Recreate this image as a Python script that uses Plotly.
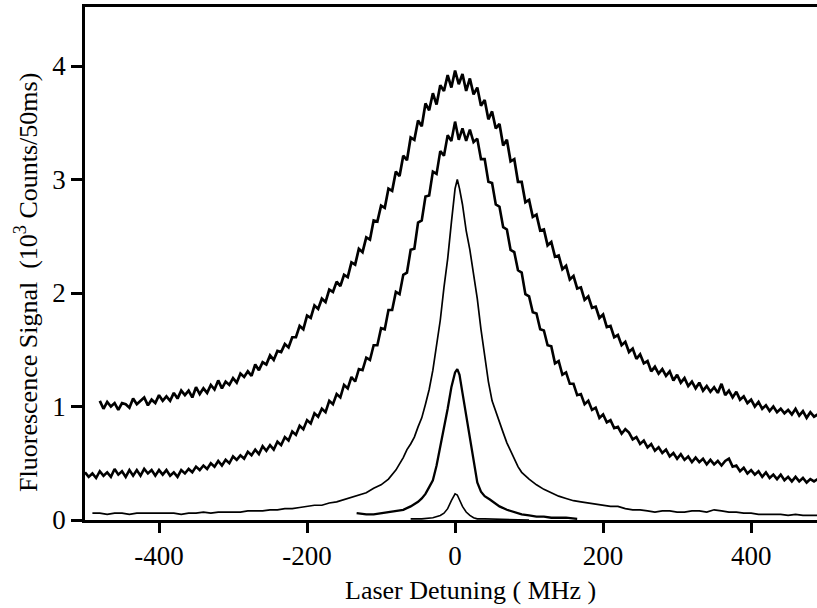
import plotly.graph_objects as go

# ---- data ----
x_broad = list(range(-480, 495, 5))
y_broad = [1.05, 0.98, 1.04, 1.00, 1.03, 0.97, 1.03, 1.02, 0.99, 1.07, 1.02, 1.05, 1.08, 1.01, 1.06, 1.03, 1.10,
           1.05, 1.09, 1.05, 1.12, 1.07, 1.14, 1.10, 1.14, 1.08, 1.17, 1.11, 1.16, 1.12, 1.19, 1.15, 1.23, 1.16, 1.22, 1.19, 1.25,
           1.21, 1.29, 1.26, 1.31, 1.27, 1.37, 1.32, 1.39, 1.37, 1.45, 1.41, 1.49, 1.48, 1.55, 1.52, 1.61, 1.61, 1.71, 1.68, 1.80,
           1.78, 1.89, 1.86, 1.95, 1.92, 2.03, 2.01, 2.10, 2.06, 2.16, 2.14, 2.27, 2.25, 2.39, 2.36, 2.49, 2.47, 2.64, 2.63, 2.77,
           2.75, 2.92, 2.90, 3.07, 3.03, 3.21, 3.17, 3.37, 3.35, 3.52, 3.47, 3.67, 3.61, 3.76, 3.66, 3.83, 3.78, 3.92, 3.81, 3.96,
           3.84, 3.93, 3.78, 3.89, 3.75, 3.81, 3.65, 3.70, 3.53, 3.60, 3.45, 3.49, 3.30, 3.35, 3.16, 3.18, 2.98, 2.98, 2.80, 2.82,
           2.67, 2.69, 2.55, 2.56, 2.42, 2.45, 2.32, 2.33, 2.21, 2.24, 2.12, 2.15, 2.04, 2.05, 1.94, 1.97, 1.87, 1.88, 1.78, 1.81,
           1.70, 1.71, 1.61, 1.63, 1.54, 1.57, 1.48, 1.51, 1.42, 1.46, 1.38, 1.40, 1.31, 1.35, 1.29, 1.33, 1.27, 1.31, 1.23, 1.28,
           1.21, 1.25, 1.18, 1.22, 1.16, 1.21, 1.14, 1.18, 1.13, 1.17, 1.12, 1.20, 1.10, 1.14, 1.08, 1.13, 1.06, 1.09, 1.03, 1.06,
           1.00, 1.04, 0.98, 1.01, 0.96, 1.00, 0.95, 0.98, 0.94, 0.97, 0.93, 0.98, 0.92, 0.96, 0.90, 0.95, 0.91, 0.93]

x_mid = list(range(-500, 495, 5))
y_mid = [0.42, 0.38, 0.41, 0.37, 0.43, 0.39, 0.42, 0.38, 0.45, 0.40, 0.43, 0.38, 0.44, 0.39, 0.44, 0.39, 0.45, 0.41, 0.44, 0.39,
         0.44, 0.40, 0.44, 0.39, 0.42, 0.38, 0.44, 0.41, 0.45, 0.42, 0.47, 0.44, 0.48, 0.45, 0.50, 0.47, 0.52, 0.48, 0.53, 0.50,
         0.56, 0.53, 0.57, 0.54, 0.60, 0.57, 0.62, 0.58, 0.65, 0.61, 0.66, 0.62, 0.69, 0.66, 0.73, 0.70, 0.78, 0.75, 0.83, 0.80,
         0.88, 0.85, 0.94, 0.91, 0.98, 0.95, 1.05, 1.02, 1.11, 1.08, 1.19, 1.16, 1.26, 1.22, 1.33, 1.32, 1.43, 1.41, 1.54, 1.54,
         1.69, 1.68, 1.85, 1.85, 2.01, 1.99, 2.16, 2.18, 2.38, 2.39, 2.62, 2.64, 2.85, 2.86, 3.07, 3.05, 3.25, 3.21, 3.39, 3.34,
         3.51, 3.35, 3.45, 3.34, 3.44, 3.33, 3.36, 3.18, 3.18, 2.98, 2.97, 2.78, 2.76, 2.58, 2.56, 2.38, 2.36, 2.20, 2.18, 1.99,
         1.97, 1.83, 1.82, 1.68, 1.67, 1.54, 1.53, 1.38, 1.40, 1.28, 1.30, 1.20, 1.20, 1.10, 1.11, 1.02, 1.05, 0.97, 0.99, 0.90,
         0.93, 0.86, 0.88, 0.81, 0.82, 0.76, 0.80, 0.77, 0.71, 0.73, 0.67, 0.70, 0.64, 0.67, 0.61, 0.64, 0.59, 0.62, 0.56, 0.59,
         0.54, 0.58, 0.53, 0.56, 0.51, 0.55, 0.51, 0.54, 0.49, 0.53, 0.49, 0.52, 0.48, 0.52, 0.54, 0.47, 0.48, 0.43, 0.46, 0.41,
         0.44, 0.40, 0.43, 0.38, 0.42, 0.37, 0.40, 0.36, 0.40, 0.35, 0.38, 0.34, 0.38, 0.34, 0.37, 0.33, 0.36, 0.34, 0.36]

x_narrow = [-490, -480, -470, -460, -450, -440, -430, -420, -410, -400, -390, -380, -370, -360, -350, -340, -330, -320,
            -310, -300, -290, -280, -270, -260, -250, -240, -230, -220, -210, -200, -190, -180, -170, -160, -150, -140,
            -130, -120, -110, -100, -90, -80, -70, -65, -60, -55, -50, -45, -40, -35, -30, -25, -20, -15, -10, -5, 0, 3,
            6, 10, 15, 20, 25, 30, 35, 40, 45, 50, 55, 60, 65, 70, 75, 80, 85, 90, 100, 110, 120, 130, 140, 150, 160, 170,
            180, 190, 200, 210, 220, 230, 240, 250, 260, 270, 280, 290, 300, 310, 320, 330, 340, 350, 360, 370, 380, 390,
            400, 410, 420, 430, 440, 450, 460, 470, 480, 490]
y_narrow = [0.06, 0.06, 0.05, 0.06, 0.06, 0.05, 0.06, 0.06, 0.06, 0.06, 0.06, 0.06, 0.05, 0.06, 0.06, 0.07, 0.06, 0.07,
            0.07, 0.07, 0.07, 0.08, 0.08, 0.08, 0.09, 0.09, 0.10, 0.10, 0.11, 0.12, 0.13, 0.13, 0.15, 0.16, 0.18, 0.20,
            0.22, 0.24, 0.28, 0.31, 0.36, 0.44, 0.55, 0.62, 0.67, 0.73, 0.82, 0.90, 1.02, 1.15, 1.32, 1.52, 1.76, 2.05,
            2.30, 2.62, 2.92, 3.00, 2.92, 2.78, 2.55, 2.38, 2.17, 1.95, 1.68, 1.45, 1.22, 1.05, 0.95, 0.86, 0.77, 0.68,
            0.61, 0.53, 0.47, 0.42, 0.36, 0.31, 0.27, 0.24, 0.21, 0.19, 0.17, 0.16, 0.15, 0.14, 0.13, 0.12, 0.12, 0.10,
            0.09, 0.09, 0.08, 0.07, 0.08, 0.08, 0.07, 0.07, 0.08, 0.08, 0.07, 0.09, 0.08, 0.07, 0.07, 0.06, 0.06, 0.05,
            0.05, 0.05, 0.05, 0.04, 0.05, 0.04, 0.04, 0.04]

x_sharp = [-133, -120, -110, -100, -90, -80, -70, -60, -50, -45, -40, -35, -30, -25, -20, -15, -10, -5, 0, 3, 6, 10,
           15, 20, 25, 30, 35, 40, 47, 55, 60, 70, 80, 90, 100, 110, 120, 130, 140, 150, 165]
y_sharp = [0.06, 0.05, 0.05, 0.06, 0.07, 0.08, 0.09, 0.12, 0.16, 0.19, 0.23, 0.29, 0.35, 0.48, 0.64, 0.80, 0.98, 1.17,
           1.30, 1.33, 1.28, 1.12, 0.92, 0.76, 0.52, 0.33, 0.25, 0.21, 0.18, 0.14, 0.12, 0.09, 0.07, 0.05, 0.04, 0.03,
           0.03, 0.02, 0.02, 0.02, 0.01]

x_small = [-60, -45, -30, -20, -15, -10, -5, 0, 3, 6, 10, 15, 20, 25, 30, 40, 60, 80, 100]
y_small = [0.01, 0.01, 0.02, 0.04, 0.06, 0.10, 0.17, 0.23, 0.22, 0.18, 0.12, 0.07, 0.04, 0.02, 0.01, 0.01, 0.005, 0.0, 0.0]

x_ticks = [-400, -200, 0, 200, 400]
x_tick_text = ["-400", "-200", "0", "200", "400"]
y_ticks = [0, 1, 2, 3, 4]
y_tick_text = ["0", "1", "2", "3", "4"]

x_title = "Laser Detuning ( MHz )"
y_title = "Fluorescence Signal  (10<sup>3</sup> Counts/50ms)"

FONT = "Liberation Serif, Times New Roman, serif"

fig = go.Figure()
series = [(x_broad, y_broad, 2.7), (x_mid, y_mid, 2.6), (x_narrow, y_narrow, 1.7),
          (x_sharp, y_sharp, 2.3), (x_small, y_small, 1.6)]
for xs, ys, w in series:
    fig.add_trace(go.Scatter(x=xs, y=ys, mode="lines",
                             line=dict(color="black", width=w),
                             showlegend=False, hoverinfo="skip"))

fig.update_layout(
    width=817, height=608,
    margin=dict(l=85, r=0, t=7, b=88),
    paper_bgcolor="white", plot_bgcolor="white",
    font=dict(family=FONT, color="black", size=26),
    annotations=[
        dict(text=x_title, xref="paper", yref="paper", x=0.527, y=-0.137,
             xanchor="center", yanchor="middle", showarrow=False,
             font=dict(family=FONT, size=26, color="black")),
        dict(text=y_title, xref="paper", yref="paper", x=-0.08, y=0.463,
             xanchor="center", yanchor="middle", showarrow=False, textangle=-90,
             font=dict(family=FONT, size=26, color="black")),
    ],
)
fig.update_xaxes(range=[-500, 489], tickvals=x_ticks, ticktext=x_tick_text,
                 ticks="outside", ticklen=10, tickwidth=2.5, tickcolor="black",
                 showline=True, linecolor="black", linewidth=2.5, mirror=True,
                 showgrid=False, zeroline=False,
                 tickfont=dict(family=FONT, size=27, color="black"))
fig.update_yaxes(range=[0, 4.52], tickvals=y_ticks, ticktext=y_tick_text,
                 ticks="outside", ticklen=11, tickwidth=2.5, tickcolor="black",
                 showline=True, linecolor="black", linewidth=2.5, mirror=False,
                 showgrid=False, zeroline=False,
                 tickfont=dict(family=FONT, size=27, color="black"))

fig.write_html("out.html",
               config={"displayModeBar": False},
               post_script="document.body.style.margin='0';document.body.style.padding='0';")
